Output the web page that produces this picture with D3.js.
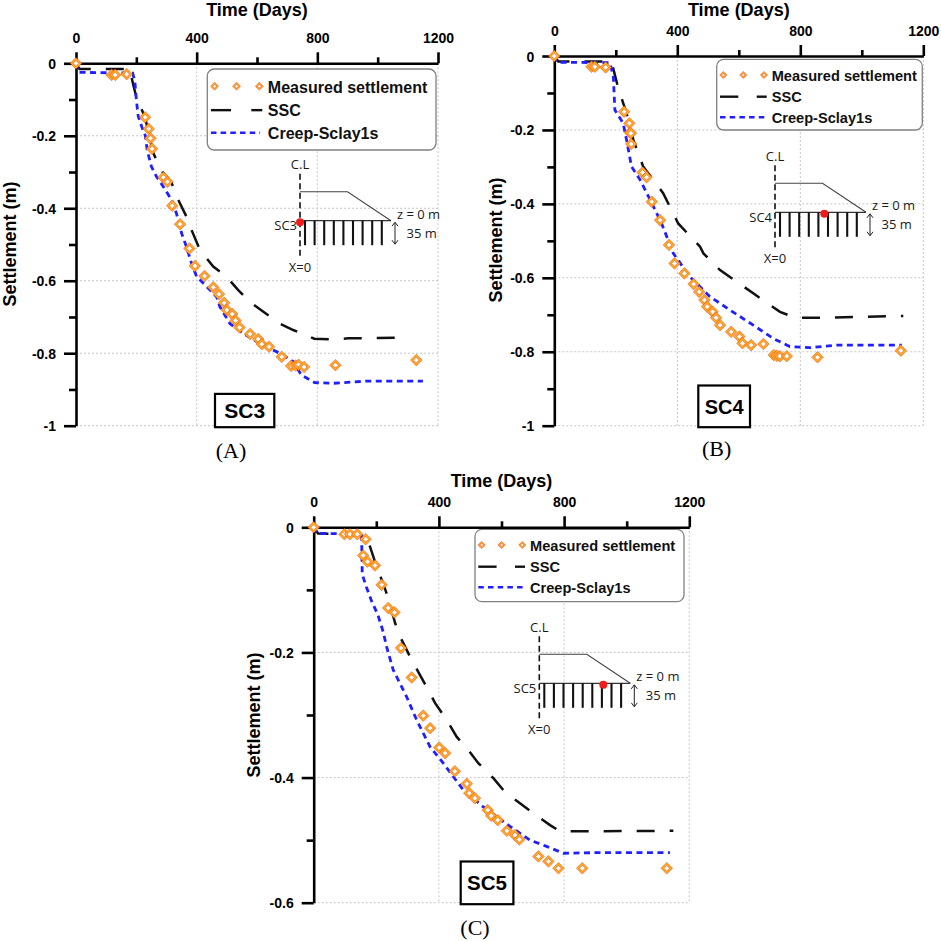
<!DOCTYPE html>
<html>
<head>
<meta charset="utf-8">
<script src="https://cdn.jsdelivr.net/npm/d3@7"></script>
<style>
  body { margin: 0; background: #fff; }
  svg { display: block; font-family: "Liberation Sans", Arial, sans-serif; }
</style>
</head>
<body>
<svg id="chart" width="941" height="941"></svg>
<script>
// tick values
const xMajor = [0, 400, 800, 1200];
const xMinor = [200, 600, 1000];
const yMajorAB = [0, -0.2, -0.4, -0.6, -0.8, -1];
const yMinorAB = [-0.1, -0.3, -0.5, -0.7, -0.9];
const yMajorC = [0, -0.2, -0.4, -0.6];
const yMinorC = [-0.1, -0.3, -0.5];

const legendLabels = ['Measured settlement', 'SSC', 'Creep-Sclay1s'];

// SC3 : [days, settlement m]
const measuredA = [[0,0],[118,-0.032],[130,-0.032],[168,-0.030],[229,-0.149],[241,-0.181],[247,-0.207],[252,-0.236],
  [290,-0.315],[303,-0.327],[319,-0.393],[345,-0.444],[376,-0.511],[394,-0.559],[426,-0.587],[455,-0.618],[474,-0.637],
  [491,-0.661],[500,-0.681],[518,-0.692],[529,-0.710],[542,-0.729],[577,-0.747],[604,-0.761],[616,-0.775],[640,-0.782],
  [682,-0.810],[713,-0.835],[728,-0.834],[738,-0.832],[756,-0.838],[860,-0.833],[1128,-0.819]];
const sscA = [[0,0],[12,-0.016],[178,-0.016],[190,-0.06],[201,-0.096],[229,-0.149],[256,-0.248],[287,-0.30],[317,-0.33],
  [334,-0.368],[366,-0.423],[383,-0.46],[411,-0.515],[455,-0.561],[499,-0.589],[537,-0.625],[576,-0.658],[620,-0.685],
  [675,-0.718],[720,-0.736],[790,-0.76],[850,-0.762],[902,-0.759],[1084,-0.757]];
const creepA = [[0,0],[8,-0.025],[188,-0.027],[195,-0.05],[200,-0.10],[206,-0.145],[218,-0.175],[230,-0.20],[236,-0.24],
  [250,-0.285],[267,-0.313],[289,-0.34],[317,-0.377],[333,-0.414],[350,-0.469],[366,-0.506],[383,-0.552],[400,-0.589],
  [433,-0.616],[466,-0.644],[477,-0.672],[510,-0.718],[554,-0.745],[609,-0.773],[675,-0.80],[720,-0.823],[747,-0.86],
  [791,-0.881],[852,-0.883],[962,-0.877],[1150,-0.877]];

// SC4
const measuredB = [[0,0],[121,-0.029],[132,-0.029],[167,-0.031],[227,-0.151],[244,-0.182],[246,-0.207],[249,-0.209],
  [250,-0.238],[287,-0.315],[300,-0.328],[317,-0.394],[344,-0.444],[373,-0.511],[391,-0.561],[423,-0.588],[453,-0.617],
  [471,-0.638],[488,-0.660],[497,-0.678],[515,-0.692],[526,-0.708],[539,-0.728],[575,-0.746],[602,-0.759],[612,-0.777],
  [640,-0.782],[680,-0.779],[714,-0.809],[724,-0.811],[734,-0.812],[756,-0.812],[856,-0.815],[1127,-0.797]];
const sscB = [[0,0],[13,-0.015],[186,-0.015],[208,-0.087],[235,-0.155],[257,-0.227],[289,-0.299],[354,-0.371],
  [403,-0.453],[474,-0.516],[485,-0.534],[539,-0.579],[647,-0.642],[734,-0.692],[783,-0.708],[864,-0.708],[1135,-0.703]];
const creepB = [[0,0],[8,-0.017],[181,-0.018],[192,-0.056],[197,-0.146],[224,-0.182],[235,-0.227],[251,-0.299],
  [279,-0.335],[317,-0.398],[349,-0.453],[387,-0.534],[441,-0.597],[506,-0.651],[571,-0.687],[647,-0.728],[712,-0.764],
  [766,-0.786],[831,-0.789],[918,-0.782],[1130,-0.782]];

// SC5
const measuredC = [[0,0],[98,-0.011],[116,-0.011],[139,-0.011],[166,-0.019],[158,-0.045],[172,-0.055],[196,-0.061],
  [217,-0.092],[238,-0.129],[258,-0.136],[279,-0.193],[313,-0.240],[350,-0.301],[372,-0.321],[401,-0.352],[420,-0.361],
  [451,-0.390],[489,-0.410],[497,-0.425],[515,-0.433],[556,-0.452],[567,-0.461],[588,-0.468],[617,-0.485],[643,-0.492],
  [657,-0.499],[718,-0.526],[750,-0.534],[782,-0.545],[858,-0.545],[1128,-0.545]];
const sscC = [[0,0],[14,-0.010],[159,-0.011],[180,-0.031],[201,-0.063],[222,-0.09],[242,-0.119],[260,-0.153],
  [281,-0.180],[313,-0.212],[334,-0.231],[366,-0.26],[388,-0.281],[425,-0.308],[457,-0.335],[494,-0.356],[526,-0.377],
  [574,-0.401],[611,-0.423],[659,-0.441],[702,-0.457],[755,-0.476],[787,-0.486],[872,-0.486],[1149,-0.485]];
const creepC = [[0,0],[8,-0.0096],[153,-0.011],[155,-0.075],[168,-0.095],[185,-0.118],[205,-0.14],[222,-0.167],
  [233,-0.191],[254,-0.228],[297,-0.271],[329,-0.308],[372,-0.351],[414,-0.377],[478,-0.420],[542,-0.447],[627,-0.478],
  [691,-0.500],[744,-0.510],[798,-0.521],[904,-0.520],[1138,-0.520]];

const ORANGE = '#ffac1f', RED = '#ef3b1e', BLUE = '#1f1fff';

const panels = [
  { name: 'SC3', tag: '(A)', left: 76, top: 63.3, w: 362, h: 362.4, yMin: -1, yMajor: yMajorAB, yMinor: yMinorAB,
    measured: measuredA, ssc: sscA, creep: creepA, titleY: 15.5, yLabelX: 9.5, yLabelY: 244,
    legend: [131.3, 5.7, 228.7, 81, 1.1], box: [139, 59.3, 33.3, 21], inset: [224, 157.4, 0], tagPos: [231, 458] },
  { name: 'SC4', tag: '(B)', left: 554.3, top: 56, w: 369, h: 369.7, yMin: -1, yMajor: yMajorAB, yMinor: yMinorAB,
    measured: measuredB, ssc: sscB, creep: creepB, titleY: 15.5, yLabelX: 495.8, yLabelY: 240,
    legend: [162.4, 3.3, 205.6, 70.7, 1], box: [144, 51.7, 41.7, 20], inset: [220.7, 156.3, 49.3], tagPos: [716.7, 456] },
  { name: 'SC5', tag: '(C)', left: 313.7, top: 527.3, w: 375.6, h: 375.4, yMin: -0.6, yMajor: yMajorC, yMinor: yMinorC,
    measured: measuredC, ssc: sscC, creep: creepC, titleY: 487, yLabelX: 254, yLabelY: 715,
    legend: [161.3, 2, 209, 72.4, 1], box: [147, 52.7, 42.7, 20.5], inset: [225.6, 156, 64], tagPos: [475, 935] }
];

const svg = d3.select('#chart');
svg.append('rect').attr('width', 941).attr('height', 941).attr('fill', '#fff');

const diamond = r => `M0,${-r}L${r},0L0,${r}L${-r},0Z`;

function drawMarker(g, x, y, r) {
  g.append('path').attr('d', diamond(r)).attr('transform', `translate(${x},${y})`)
    .attr('fill', ORANGE).attr('stroke', RED).attr('stroke-width', 0.5);
  g.append('path').attr('d', diamond(r * 0.5)).attr('transform', `translate(${x},${y})`)
    .attr('fill', '#fffdf4').attr('stroke', RED).attr('stroke-width', 0.5);
}

function drawInset(g, label, dotDx) {
  const font = '"Open Sans", "DejaVu Sans", sans-serif';
  g.append('line').attr('x1', 0).attr('x2', 0).attr('y1', -47).attr('y2', 38)
    .attr('stroke', '#111').attr('stroke-width', 1.6).attr('stroke-dasharray', '6,3.5');
  g.append('polyline').attr('points', '0,-29 47.5,-29 91,0').attr('fill', 'none')
    .attr('stroke', '#444').attr('stroke-width', 1.1);
  g.append('line').attr('x1', 0).attr('x2', 91).attr('y1', 0).attr('y2', 0)
    .attr('stroke', '#333').attr('stroke-width', 1.2);
  d3.range(9).forEach(i => {
    g.append('line').attr('x1', 5 + i * 9.6).attr('x2', 5 + i * 9.6).attr('y1', 0).attr('y2', 24.5)
      .attr('stroke', '#111').attr('stroke-width', 2.1);
  });
  g.append('line').attr('x1', 95).attr('x2', 95).attr('y1', 2).attr('y2', 23)
    .attr('stroke', '#222').attr('stroke-width', 1);
  g.append('path').attr('d', 'M92,5.5L95,1.5L98,5.5M92,19.5L95,23.5L98,19.5')
    .attr('fill', 'none').attr('stroke', '#222').attr('stroke-width', 1);
  const t = (txt, x, y, anchor) => g.append('text').attr('x', x).attr('y', y)
    .attr('text-anchor', anchor).attr('font-family', font).attr('font-size', 13).attr('fill', '#1a1a1a').text(txt);
  t('C.L', 0, -51.5, 'middle');
  t('X=0', 0, 51, 'middle');
  t(label, -3, 9.5, 'end');
  t('z = 0 m', 97, -2, 'start');
  t('35 m', 106.5, 17, 'start');
  g.append('circle').attr('cx', dotDx).attr('cy', 1.5).attr('r', 4).attr('fill', '#ee1c1c');
}

function styleAxis(ax) {
  ax.selectAll('path.domain').attr('stroke', '#000').attr('stroke-width', 2.6);
  ax.selectAll('g.tick line').attr('stroke', '#000').attr('stroke-width', 2.6);
  ax.selectAll('g.tick text').attr('font-family', '"Liberation Sans", Arial, sans-serif')
    .attr('font-size', 14).attr('font-weight', 'bold').attr('fill', '#000');
}

function drawAxes(p) {
  const x = d3.scaleLinear().domain([0, 1200]).range([p.left, p.left + p.w]);
  const y = d3.scaleLinear().domain([0, p.yMin]).range([p.top, p.top + p.h]);
  const g = svg.append('g');

  const xMinAx = g.append('g').attr('transform', `translate(0,${p.top})`)
    .call(d3.axisTop(x).tickValues(xMinor).tickSizeInner(6).tickSizeOuter(0).tickFormat(() => ''));
  xMinAx.select('path.domain').remove();
  styleAxis(xMinAx);
  const xAx = g.append('g').attr('transform', `translate(0,${p.top})`)
    .call(d3.axisTop(x).tickValues(xMajor).tickSizeInner(11).tickSizeOuter(0).tickFormat(d => String(d)));
  styleAxis(xAx);
  xAx.selectAll('g.tick text').attr('y', -20.5).attr('dy', 0);

  const yMinAx = g.append('g').attr('transform', `translate(${p.left},0)`)
    .call(d3.axisLeft(y).tickValues(p.yMinor).tickSizeInner(7).tickSizeOuter(0).tickFormat(() => ''));
  yMinAx.select('path.domain').remove();
  styleAxis(yMinAx);
  const yAx = g.append('g').attr('transform', `translate(${p.left},0)`)
    .call(d3.axisLeft(y).tickValues(p.yMajor).tickSizeInner(12).tickSizeOuter(0).tickFormat(d => String(d)));
  styleAxis(yAx);
  yAx.selectAll('g.tick text').attr('x', -20).attr('dy', '0.36em');
}

panels.forEach(p => {
  const x = d3.scaleLinear().domain([0, 1200]).range([p.left, p.left + p.w]);
  const y = d3.scaleLinear().domain([0, p.yMin]).range([p.top, p.top + p.h]);
  const g = svg.append('g');

  // grid
  g.append('g').selectAll('line').data(xMajor.slice(1)).join('line')
    .attr('x1', d => x(d)).attr('x2', d => x(d)).attr('y1', p.top).attr('y2', p.top + p.h)
    .attr('stroke', '#c6c6c6').attr('stroke-width', 1).attr('stroke-dasharray', '2,2');
  g.append('g').selectAll('line').data(p.yMajor.slice(1)).join('line')
    .attr('x1', p.left).attr('x2', p.left + p.w).attr('y1', d => y(d)).attr('y2', d => y(d))
    .attr('stroke', '#c6c6c6').attr('stroke-width', 1).attr('stroke-dasharray', '2,2');

  // inset sketch
  drawInset(g.append('g').attr('transform', `translate(${p.left + p.inset[0]},${p.top + p.inset[1]})`), p.name, p.inset[2]);

  const lineGen = d3.line().x(d => x(d[0])).y(d => y(d[1]));
  g.append('path').datum(p.ssc).attr('d', lineGen).attr('fill', 'none')
    .attr('stroke', '#111').attr('stroke-width', 2.5).attr('stroke-dasharray', '18,15');
  g.append('path').datum(p.creep).attr('d', lineGen).attr('fill', 'none')
    .attr('stroke', BLUE).attr('stroke-width', 2.8).attr('stroke-dasharray', '6,4.5');

  // axis titles
  g.append('text').attr('x', p.left + p.w / 2).attr('y', p.titleY).attr('text-anchor', 'middle')
    .attr('font-size', 18).attr('font-weight', 'bold').text('Time (Days)');
  g.append('text').attr('transform', `translate(${p.yLabelX},${p.yLabelY}) rotate(-90)`)
    .attr('text-anchor', 'middle').attr('dy', '0.35em')
    .attr('font-size', 18).attr('font-weight', 'bold').text('Settlement (m)');

  // legend
  const [lx, ly, lw, lh, k] = p.legend;
  const lg = g.append('g').attr('transform', `translate(${p.left + lx},${p.top + ly})`);
  lg.append('rect').attr('width', lw).attr('height', lh).attr('rx', 7)
    .attr('fill', '#fff').attr('stroke', '#808080').attr('stroke-width', 1.3);
  [6.6, 26.6, 47.3].forEach(dx => drawMarker(lg, dx * k, 15.7 * k, 3.6 * k));
  [[3.3, 21.6], [40, 50]].forEach(s => lg.append('line')
    .attr('x1', s[0] * k).attr('x2', s[1] * k).attr('y1', 37.4 * k).attr('y2', 37.4 * k)
    .attr('stroke', '#111').attr('stroke-width', 2.4));
  lg.append('line').attr('x1', 3.3 * k).attr('x2', 48 * k).attr('y1', 58 * k).attr('y2', 58 * k)
    .attr('stroke', BLUE).attr('stroke-width', 2.6).attr('stroke-dasharray', '5.5,4.2');
  legendLabels.forEach((t, i) => lg.append('text').attr('x', 55 * k).attr('y', [21.7, 42.4, 63.4][i] * k)
    .attr('font-size', 14.6 * k).attr('font-weight', 'bold').attr('fill', '#111').text(t));

  // station box
  const [bx, bw, bh, bf] = p.box;
  g.append('rect').attr('x', p.left + bx).attr('y', p.top + p.h - bh + 1.5).attr('width', bw).attr('height', bh)
    .attr('fill', '#fff').attr('stroke', '#000').attr('stroke-width', 2.2);
  g.append('text').attr('x', p.left + bx + bw / 2).attr('y', p.top + p.h - bh / 2 + 1.5).attr('dy', '0.36em')
    .attr('text-anchor', 'middle').attr('font-size', bf).attr('font-weight', 'bold').text(p.name);

  // panel tag
  g.append('text').attr('x', p.tagPos[0]).attr('y', p.tagPos[1]).attr('text-anchor', 'middle')
    .attr('font-family', '"Liberation Serif", "Times New Roman", serif').attr('font-size', 22).text(p.tag);
});

panels.forEach(drawAxes);

// measured points last, over the axes as in the source
panels.forEach(p => {
  const x = d3.scaleLinear().domain([0, 1200]).range([p.left, p.left + p.w]);
  const y = d3.scaleLinear().domain([0, p.yMin]).range([p.top, p.top + p.h]);
  const mg = svg.append('g');
  p.measured.forEach(d => drawMarker(mg, x(d[0]), y(d[1]), 5.8));
});
</script>
</body>
</html>
